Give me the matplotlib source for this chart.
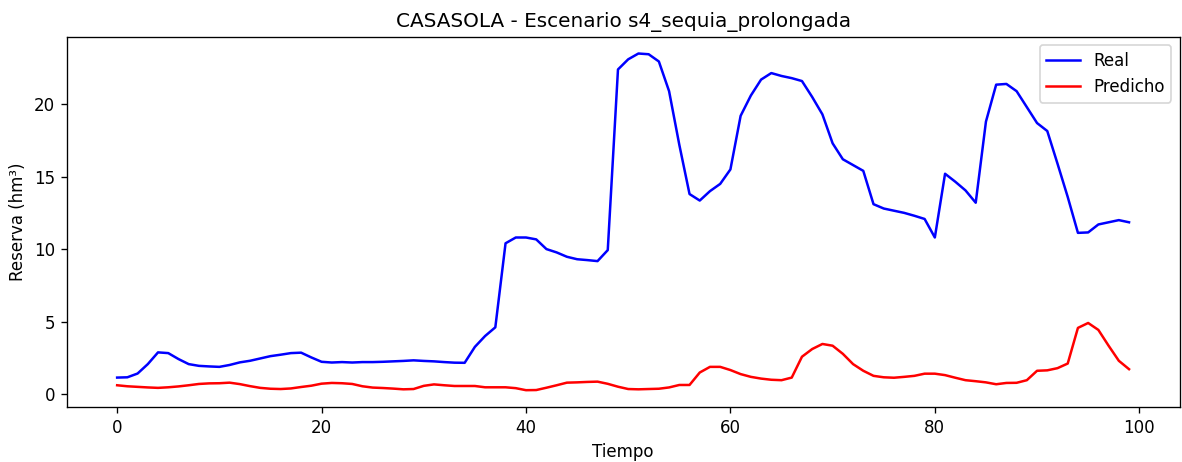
import numpy as np
import matplotlib
matplotlib.use("Agg")
import matplotlib.pyplot as plt

real = [1.13, 1.15, 1.41, 2.06, 2.87, 2.82, 2.41, 2.06, 1.94, 1.9,
        1.87, 2.0, 2.18, 2.29, 2.45, 2.61, 2.71, 2.82, 2.85, 2.52,
        2.22, 2.17, 2.2, 2.17, 2.2, 2.2, 2.22, 2.25, 2.28, 2.32,
        2.28, 2.25, 2.2, 2.16, 2.15, 3.25, 4.0, 4.6, 10.4, 10.8,
        10.8, 10.67, 10.0, 9.77, 9.47, 9.3, 9.24, 9.17, 9.93, 22.4,
        23.1, 23.5, 23.45, 22.95, 20.9, 17.2, 13.8, 13.35, 14.0, 14.5,
        15.5, 19.2, 20.6, 21.7, 22.15, 21.95, 21.8, 21.6, 20.5, 19.3,
        17.3, 16.2, 15.8, 15.4, 13.1, 12.8, 12.65, 12.5, 12.3, 12.08,
        10.8, 15.2, 14.65, 14.05, 13.2, 18.8, 21.35, 21.4, 20.9, 19.8,
        18.7, 18.15, 15.9, 13.6, 11.12, 11.15, 11.7, 11.85, 12.0, 11.85]

predicho = [0.6, 0.53, 0.49, 0.45, 0.42, 0.46, 0.52, 0.6, 0.69, 0.73,
            0.74, 0.78, 0.68, 0.54, 0.42, 0.36, 0.34, 0.38, 0.48, 0.57,
            0.71, 0.76, 0.74, 0.69, 0.53, 0.44, 0.41, 0.37, 0.32, 0.34,
            0.56, 0.66, 0.6, 0.55, 0.55, 0.55, 0.46, 0.46, 0.46, 0.4,
            0.26, 0.27, 0.43, 0.6, 0.78, 0.8, 0.83, 0.85, 0.7, 0.5,
            0.34, 0.32, 0.34, 0.36, 0.45, 0.62, 0.62, 1.48, 1.87, 1.87,
            1.65, 1.37, 1.18, 1.06, 0.98, 0.95, 1.13, 2.57, 3.1, 3.45,
            3.33, 2.77, 2.06, 1.6, 1.25, 1.15, 1.12, 1.18, 1.25, 1.4,
            1.4, 1.3, 1.12, 0.95, 0.88, 0.8, 0.67, 0.76, 0.77, 0.95,
            1.6, 1.63, 1.78, 2.1, 4.56, 4.9, 4.42, 3.33, 2.29, 1.71]

tiempo = np.arange(len(real))

fig, ax = plt.subplots(figsize=(9.85, 3.85), dpi=120)
fig.subplots_adjust(left=0.0563, right=0.998, top=0.9206, bottom=0.119)

ax.plot(tiempo, real, color="blue", label="Real")
ax.plot(tiempo, predicho, color="red", label="Predicho")
ax.set_title("CASASOLA - Escenario s4_sequia_prolongada")
ax.set_xlabel("Tiempo")
ax.set_ylabel("Reserva (hm³)")
ax.legend()

plt.savefig("out.png")
